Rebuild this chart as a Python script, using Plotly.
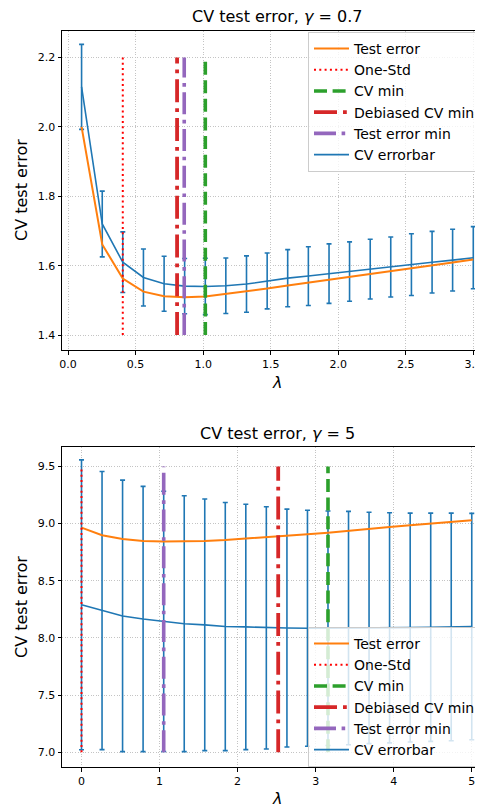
import plotly.graph_objects as go

# ---------------- data ----------------
lam_top = [0.1, 0.253, 0.405, 0.558, 0.711, 0.863, 1.016, 1.168, 1.321, 1.474,
           1.626, 1.779, 1.932, 2.084, 2.237, 2.389, 2.542, 2.695, 2.847, 3.0]
cv_mean_top = [2.115, 1.720, 1.610, 1.566, 1.548, 1.541, 1.540, 1.542, 1.547, 1.556,
               1.564, 1.570, 1.577, 1.583, 1.590, 1.596, 1.603, 1.610, 1.616, 1.623]
cv_err_top = [0.1225, 0.0947, 0.0873, 0.0821, 0.0792, 0.0797, 0.0812, 0.0800, 0.0812, 0.0806,
              0.0822, 0.0846, 0.0856, 0.0855, 0.0860, 0.0865, 0.0889, 0.0888, 0.0889, 0.0894]
test_err_top = [2.000, 1.661, 1.563, 1.525, 1.512, 1.509, 1.511, 1.518, 1.527, 1.534,
                1.543, 1.551, 1.559, 1.568, 1.576, 1.584, 1.593, 1.601, 1.609, 1.618]
vlines_top = {"One-Std": 0.405, "CV min": 1.016, "Debiased CV min": 0.807, "Test error min": 0.86}
vspan_top = [1.4, 2.2]

lam_bot = [0.0, 0.263, 0.526, 0.789, 1.053, 1.316, 1.579, 1.842, 2.105, 2.368,
           2.632, 2.895, 3.158, 3.421, 3.684, 3.947, 4.211, 4.474, 4.737, 5.0]
cv_mean_bot = [8.290, 8.240, 8.193, 8.166, 8.145, 8.125, 8.115, 8.100, 8.097, 8.089,
               8.087, 8.085, 8.085, 8.087, 8.088, 8.089, 8.091, 8.094, 8.097, 8.100]
cv_err_bot = [1.267, 1.216, 1.187, 1.160, 1.138, 1.119, 1.100, 1.085, 1.073, 1.059,
              1.040, 1.032, 1.025, 1.020, 1.012, 1.006, 1.001, 0.998, 0.995, 0.990]
test_err_bot = [8.965, 8.898, 8.866, 8.849, 8.843, 8.843, 8.849, 8.857, 8.868, 8.880,
                8.893, 8.907, 8.921, 8.939, 8.956, 8.971, 8.985, 9.000, 9.015, 9.029]
vlines_bot = {"One-Std": 0.0, "CV min": 3.158, "Debiased CV min": 2.52, "Test error min": 1.053}
vspan_bot = [7.0, 9.5]

titles = ["CV test error, <i>γ</i> = 0.7", "CV test error, <i>γ</i> = 5"]
xticks_top = [0.0, 0.5, 1.0, 1.5, 2.0, 2.5, 3.0]
yticks_top = [1.4, 1.6, 1.8, 2.0, 2.2]
xticks_bot = [0, 1, 2, 3, 4, 5]
yticks_bot = [7.0, 7.5, 8.0, 8.5, 9.0, 9.5]

# ---------------- styles ----------------
BLUE, ORANGE, GREEN, RED, PURPLE = "#1f77b4", "#ff7f0e", "#2ca02c", "#d62728", "#9467bd"
FONT = "DejaVu Sans"
vstyle = {
    "One-Std": dict(color="#ff0000", width=2, dash="2px,3.3px"),
    "CV min": dict(color=GREEN, width=3.6, dash="13px,5.6px"),
    "Debiased CV min": dict(color=RED, width=3.8, dash="23px,6px,3.8px,6px"),
    "Test error min": dict(color=PURPLE, width=3.6, dash="22px,5.6px,3.6px,5.6px"),
}
rank = {"Test error": 1, "One-Std": 2, "CV min": 3, "Debiased CV min": 4,
        "Test error min": 5, "CV errorbar": 6}

fig = go.Figure()


def add_panel(xax, yax, leg, lam, cvm, cve, te, vl, span):
    fig.add_trace(go.Scatter(
        x=lam, y=cvm, mode="lines", name="CV errorbar", xaxis=xax, yaxis=yax,
        legend=leg, legendrank=rank["CV errorbar"],
        line=dict(color=BLUE, width=1.6),
        error_y=dict(type="data", array=cve, visible=True, color=BLUE,
                     thickness=1.6, width=2.5)))
    fig.add_trace(go.Scatter(
        x=lam, y=te, mode="lines", name="Test error", xaxis=xax, yaxis=yax,
        legend=leg, legendrank=rank["Test error"],
        line=dict(color=ORANGE, width=2)))
    for name in ["One-Std", "CV min", "Debiased CV min", "Test error min"]:
        v = vl[name]
        fig.add_trace(go.Scatter(
            x=[v, v], y=span, mode="lines", name=name, xaxis=xax, yaxis=yax,
            legend=leg, legendrank=rank[name], line=vstyle[name]))


add_panel("x", "y", "legend", lam_top, cv_mean_top, cv_err_top, test_err_top, vlines_top, vspan_top)
add_panel("x2", "y2", "legend2", lam_bot, cv_mean_bot, cv_err_bot, test_err_bot, vlines_bot, vspan_bot)

# the page body has an 8px margin, so the figure is laid out 8px smaller
OFF = 8
W, H = 483 - OFF, 810 - OFF
PL, PR, PT, PB = 62, 483, 31, 767          # plot-area edges in window pixels
L, R, T, B = PL - OFF, 0, PT - OFF, H - (PB - OFF)
ph = H - T - B
pw = W - L - R


def px2x(px):
    return (px - PL) / pw


def px2y(py):
    return (PB - py) / ph


top_dom = [px2y(350), 1.0]
bot_dom = [0.0, px2y(447)]

axis_common = dict(
    showline=True, linecolor="black", linewidth=1, mirror=True,
    ticks="outside", ticklen=3.5, tickwidth=1, tickcolor="black",
    showgrid=True, gridcolor="#c4c4c4", gridwidth=0.8, griddash="1px,1.6px",
    zeroline=False, tickfont=dict(family=FONT, size=11, color="black"),
    automargin=False,
)

leg_common = dict(xanchor="left", yanchor="top",
                  bgcolor="rgba(255,255,255,0.8)", bordercolor="#cccccc", borderwidth=1,
                  font=dict(family=FONT, size=14, color="black"), tracegroupgap=0, itemwidth=35)

fig.update_layout(
    width=W, height=H,
    margin=dict(l=L, r=R, t=T, b=B, autoexpand=False),
    plot_bgcolor="white", paper_bgcolor="white",
    font=dict(family=FONT, color="black"),
    xaxis=dict(domain=[0, 1], anchor="y", range=[-0.045, 3.072],
               tickvals=xticks_top, tickformat=".1f", **axis_common),
    yaxis=dict(domain=top_dom, anchor="x", range=[1.357, 2.276],
               tickvals=yticks_top, tickformat=".1f", **axis_common),
    xaxis2=dict(domain=[0, 1], anchor="y2", range=[-0.25, 5.144],
                tickvals=xticks_bot, tickformat="d", **axis_common),
    yaxis2=dict(domain=bot_dom, anchor="x2", range=[6.872, 9.67],
                tickvals=yticks_bot, tickformat=".1f", **axis_common),
    legend=dict(x=px2x(308), y=px2y(32), **leg_common),
    legend2=dict(x=px2x(308), y=px2y(627), **leg_common),
)

ann = []
for title, ty, ly, yc in [(titles[0], 17, 382.5, 190), (titles[1], 433.5, 798.5, 607)]:
    ann.append(dict(text=title, x=px2x(277), y=px2y(ty), xref="paper", yref="paper",
                    xanchor="center", yanchor="middle", showarrow=False,
                    font=dict(family=FONT, size=16, color="black")))
    ann.append(dict(text="<i>λ</i>", x=px2x(277), y=px2y(ly), xref="paper", yref="paper",
                    xanchor="center", yanchor="middle", showarrow=False,
                    font=dict(family=FONT, size=16, color="black")))
    ann.append(dict(text="CV test error", x=px2x(21), y=px2y(yc), xref="paper", yref="paper",
                    xanchor="center", yanchor="middle", showarrow=False, textangle=-90,
                    font=dict(family=FONT, size=16, color="black")))
fig.update_layout(annotations=ann)

fig.write_html("out.html")
